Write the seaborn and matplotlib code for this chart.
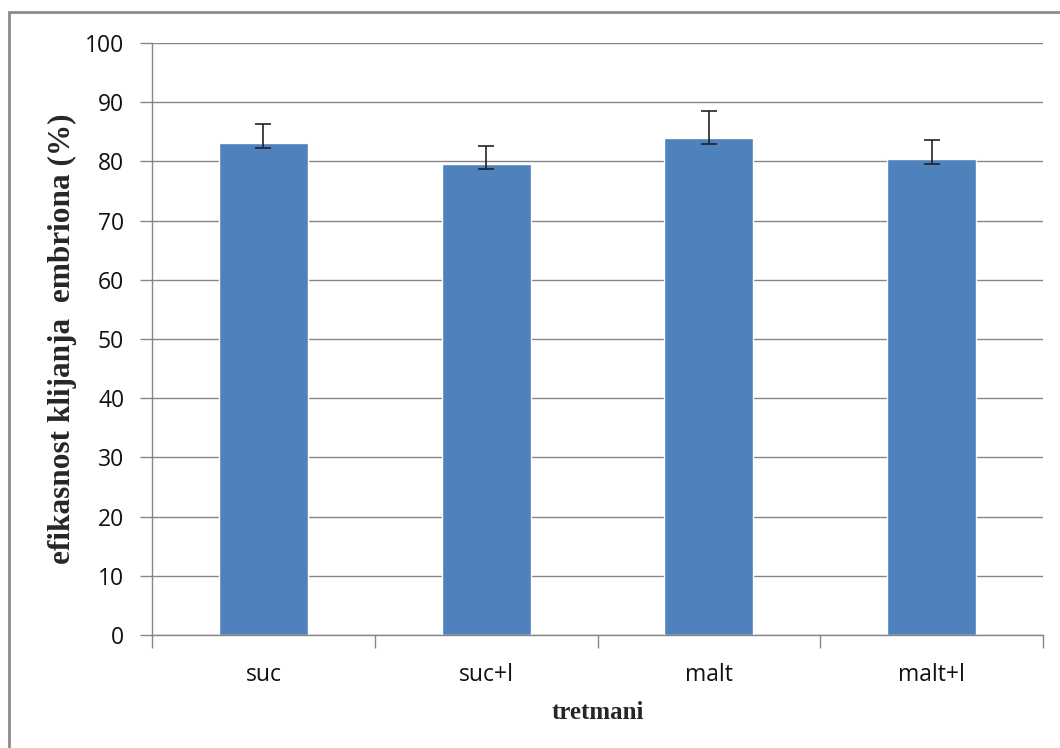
import numpy as np
import pandas as pd
import matplotlib
matplotlib.use("Agg")
import matplotlib.pyplot as plt
import seaborn as sns
from matplotlib.patches import Rectangle

# ── data ──────────────────────────────────────────────────────────────────────
tretmani  = ["suc", "suc+l", "malt", "malt+l"]
efikasnost = [83.2, 79.6, 83.9, 80.5]
err_lower = [0.9, 0.9, 1.0, 0.9]
err_upper = [3.2, 3.0, 4.7, 3.1]
y_ticks   = [0, 10, 20, 30, 40, 50, 60, 70, 80, 90, 100]

BAR_COLOR  = "#4F81BD"
GRID_COLOR = "#868686"

df = pd.DataFrame({"tretman": tretmani, "efikasnost": efikasnost})

sns.set_style("white")
plt.rcParams["font.family"] = ["Open Sans", "DejaVu Sans"]

fig = plt.figure(figsize=(10.6, 7.48), dpi=100)
ax = fig.add_axes([0.1434, 0.151, 0.8406, 0.7914])

sns.barplot(data=df, x="tretman", y="efikasnost", color=BAR_COLOR,
            width=0.4, saturation=1, errorbar=None, ax=ax, zorder=2)
ax.errorbar(np.arange(len(tretmani)), efikasnost,
            yerr=[err_lower, err_upper], fmt="none", ecolor="#222222",
            elinewidth=1.2, capsize=6, capthick=1.2, zorder=3)

ax.set_ylim(0, 100)
ax.set_yticks(y_ticks)
ax.set_xlim(-0.5, len(tretmani) - 0.5)
ax.yaxis.grid(True, color=GRID_COLOR, lw=1, zorder=0)
ax.set_axisbelow(True)

for side in ["top", "right"]:
    ax.spines[side].set_visible(False)
for side in ["left", "bottom"]:
    ax.spines[side].set_color(GRID_COLOR)
    ax.spines[side].set_linewidth(1)

ax.tick_params(axis="y", length=9, width=1, color=GRID_COLOR, left=True,
               labelsize=16.5, pad=11, labelcolor="#111111")
ax.tick_params(axis="x", which="major", length=0, labelsize=16.5, pad=20,
               labelcolor="#111111")
ax.set_xticks(np.arange(-0.5, len(tretmani)), minor=True)
ax.tick_params(axis="x", which="minor", length=9, width=1, color=GRID_COLOR,
               bottom=True)

ax.set_xlabel("tretmani", fontfamily="Liberation Serif", fontweight="bold",
              fontsize=18, labelpad=10)
ax.set_ylabel("efikasnost klijanja  embriona (%)", fontfamily="Liberation Serif",
              fontweight="bold", fontsize=22.5)
ax.yaxis.set_label_coords(-0.084, 0.5)

fig.patches.append(Rectangle((0.0085, -0.05), 1.1, 1.034, transform=fig.transFigure,
                             fill=False, edgecolor="#8c8c8c", lw=2))

fig.savefig("out.png", dpi=100)
